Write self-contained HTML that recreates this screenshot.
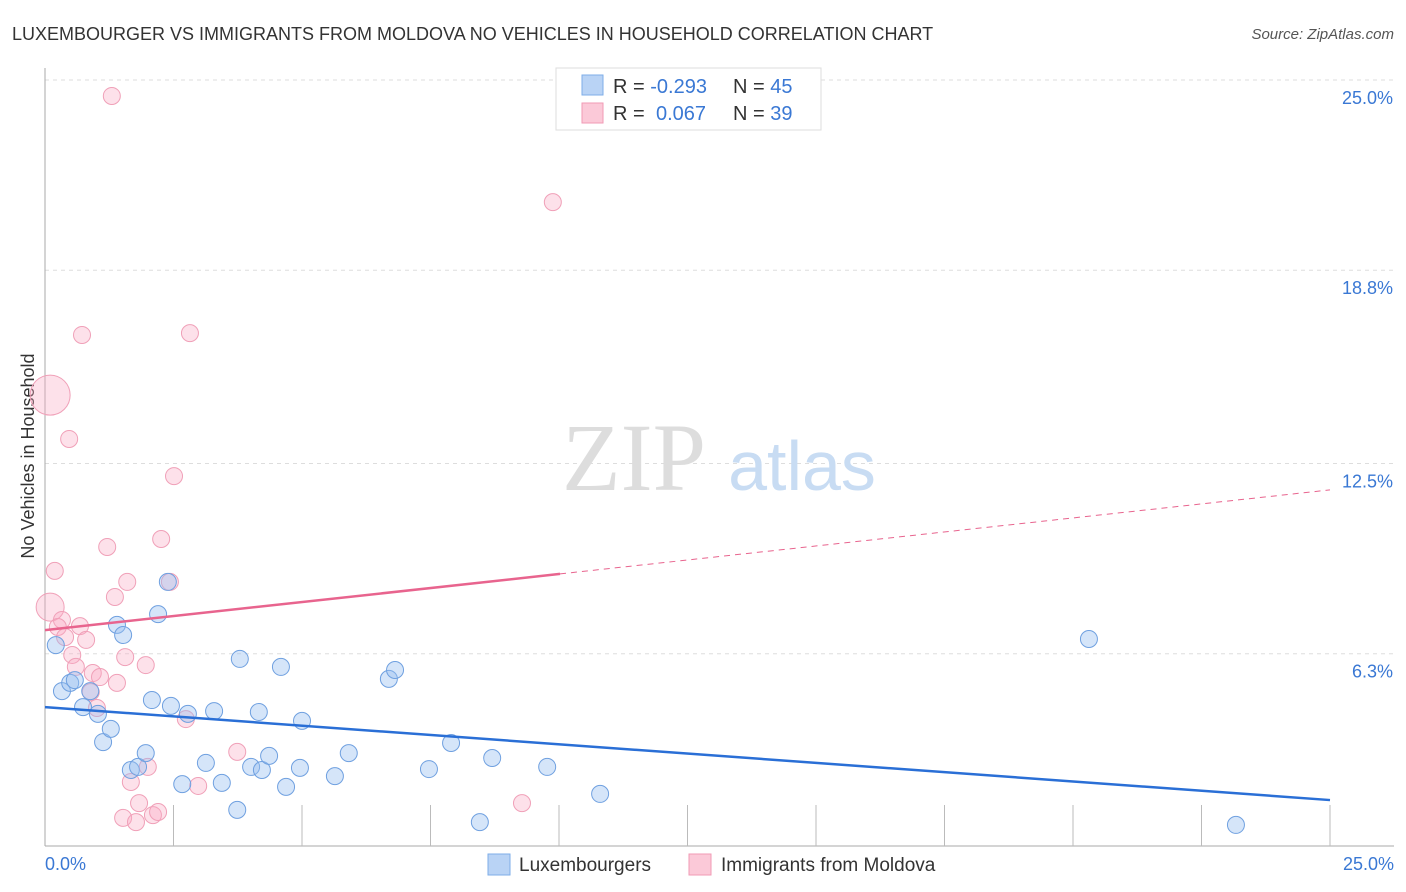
<!DOCTYPE html>
<html><head><meta charset="utf-8"><style>
body{margin:0;background:#fff;font-family:"Liberation Sans",sans-serif;}
svg{display:block}
</style></head><body>
<svg id="chart" width="1406" height="892" xmlns="http://www.w3.org/2000/svg">
<text x="12" y="40" font-size="18" fill="#333">LUXEMBOURGER VS IMMIGRANTS FROM MOLDOVA NO VEHICLES IN HOUSEHOLD CORRELATION CHART</text>
<text x="1394" y="39" font-size="15" fill="#555" font-style="italic" text-anchor="end">Source: ZipAtlas.com</text>
<g id="grid"></g>
<text x="634" y="490" font-size="96" fill="#ddd" font-family="Liberation Serif,serif" text-anchor="middle">ZIP</text>
<text x="802" y="490" font-size="70" fill="#c8dcf3" text-anchor="middle">atlas</text>
<text transform="translate(34,456) rotate(-90)" font-size="18" fill="#333" text-anchor="middle">No Vehicles in Household</text>
<g id="pts"></g>
<g id="lines"></g>
<g>
<rect x="556" y="68" width="265" height="62" fill="#fff" stroke="#ddd"/>
<rect x="582" y="75" width="21" height="20" fill="#b9d3f5" stroke="#7eaee8"/>
<rect x="582" y="103" width="21" height="20" fill="#fbc9d8" stroke="#f09ab5"/>
<text x="613" y="93" font-size="20" fill="#333">R = <tspan fill="#3a78d4">-0.293</tspan><tspan x="733">N = </tspan><tspan fill="#3a78d4">45</tspan></text>
<text x="613" y="120" font-size="20" fill="#333">R = <tspan x="656" fill="#3a78d4">0.067</tspan><tspan x="733">N = </tspan><tspan fill="#3a78d4">39</tspan></text>
</g>
<g>
<rect x="488" y="854" width="22" height="21" fill="#b9d3f5" stroke="#7eaee8"/>
<text x="519" y="871" font-size="19" fill="#333">Luxembourgers</text>
<rect x="689" y="854" width="22" height="21" fill="#fbc9d8" stroke="#f09ab5"/>
<text x="721" y="871" font-size="19" fill="#333">Immigrants from Moldova</text>
</g>
</svg>
<script>
const yTicks=[25.0,18.8,12.5,6.3];
const yTickLabels=["25.0%","18.8%","12.5%","6.3%"];
const xTickLabels=["0.0%","25.0%"];
const luxX=[0.21,0.33,0.49,0.58,0.74,0.88,1.03,1.13,1.28,1.40,1.52,1.67,1.81,1.96,2.08,2.20,2.39,2.45,2.67,2.78,3.13,3.29,3.44,3.74,3.79,4.01,4.16,4.22,4.36,4.59,4.69,4.96,5.00,5.64,5.91,6.69,6.81,7.47,7.90,8.46,8.70,9.77,10.80,20.31,23.17];
const luxY=[6.58,5.08,5.35,5.44,4.56,5.08,4.34,3.42,3.85,7.24,6.91,2.51,2.61,3.06,4.79,7.59,8.64,4.60,2.05,4.34,2.74,4.43,2.09,1.21,6.13,2.61,4.40,2.51,2.97,5.87,1.96,2.58,4.11,2.31,3.06,5.48,5.77,2.54,3.39,0.81,2.90,2.61,1.73,6.78,0.72];
const molX=[0.10,1.30,9.88,0.72,2.82,0.47,2.51,1.21,2.26,0.19,1.60,2.43,0.10,1.36,0.33,0.25,0.68,0.39,0.80,0.53,0.60,1.56,1.96,0.93,1.07,1.40,0.89,1.01,2.74,3.74,2.00,1.67,2.98,1.83,9.28,1.52,1.77,2.10,2.20];
const molY=[14.73,24.48,21.02,16.69,16.75,13.30,12.09,9.78,10.04,9.00,8.64,8.64,7.82,8.15,7.40,7.17,7.20,6.84,6.75,6.26,5.87,6.19,5.93,5.67,5.54,5.35,5.05,4.53,4.17,3.10,2.61,2.12,1.99,1.43,1.43,0.95,0.81,1.04,1.14];
const molSize=[20,8.5,8.5,8.5,8.5,8.5,8.5,8.5,8.5,8.5,8.5,8.5,14,8.5,8.5,8.5,8.5,8.5,8.5,8.5,8.5,8.5,8.5,8.5,8.5,8.5,8.5,8.5,8.5,8.5,8.5,8.5,8.5,8.5,8.5,8.5,8.5,8.5,8.5];
const luxTrend=[4.56,1.53];
const molTrend=[7.07,11.64];
const molSolidEnd=10.02;
const NS="http://www.w3.org/2000/svg";
const X=v=>45+v/25*1285;
const Y=v=>847-v/25*767;
function mk(tag,attrs,parent){const e=document.createElementNS(NS,tag);for(const k in attrs)e.setAttribute(k,attrs[k]);parent.appendChild(e);return e;}
const grid=document.getElementById('grid');
yTicks.forEach((t,i)=>{
 const l=mk('line',{x1:45,x2:1394,y1:Y(t),y2:Y(t),stroke:'#ddd','stroke-dasharray':'4,4'},grid);
 
 
 const tx=mk('text',{x:1393,y:Y(t)+24,'font-size':18,fill:'#3a78d4','text-anchor':'end'},grid);
 tx.textContent=yTickLabels[i];
 
 
});
const ax=mk('line',{x1:45,x2:45,y1:68,y2:846,stroke:'#aaa'},grid);


const bx=mk('line',{x1:45,x2:1394,y1:846,y2:846,stroke:'#aaa'},grid);


for(let i=1;i<=10;i++){const v=i*2.5;const t=mk('line',{x1:X(v),x2:X(v),y1:805,y2:846,stroke:'#bbb'},grid);
 
 }
[0,25].forEach((v,i)=>{const t=mk('text',{x:i?1394:45,y:870,'font-size':18,fill:'#3a78d4','text-anchor':i?'end':'start'},grid);t.textContent=xTickLabels[i];
 
 });
const pts=document.getElementById('pts');
molX.forEach((x,i)=>{const c=mk('circle',{cx:X(x),cy:Y(molY[i]),r:molSize[i],fill:'rgba(248,170,195,0.35)',stroke:'#f0a0b8','stroke-width':1},pts);
 
 });
luxX.forEach((x,i)=>{const c=mk('circle',{cx:X(x),cy:Y(luxY[i]),r:8.5,fill:'rgba(150,190,240,0.4)',stroke:'#6fa0e0','stroke-width':1},pts);
 
 });
const lines=document.getElementById('lines');
const l1=mk('line',{x1:X(0),y1:Y(luxTrend[0]),x2:X(25),y2:Y(luxTrend[1]),stroke:'#2a6fd6','stroke-width':2.5},lines);


const my=v=>molTrend[0]+(molTrend[1]-molTrend[0])*v/25;
const l2=mk('line',{x1:X(0),y1:Y(my(0)),x2:X(molSolidEnd),y2:Y(my(molSolidEnd)),stroke:'#e8648e','stroke-width':2.5},lines);


const l3=mk('line',{x1:X(molSolidEnd),y1:Y(my(molSolidEnd)),x2:X(25),y2:Y(my(25)),stroke:'#e8648e','stroke-width':1,'stroke-dasharray':'6,5'},lines);


</script>
</body></html>
